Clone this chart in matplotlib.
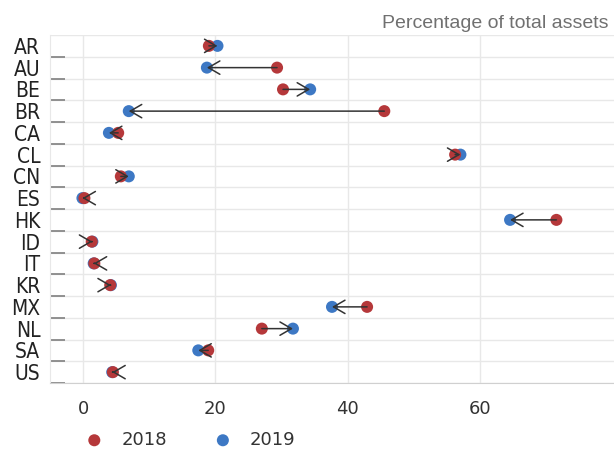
import matplotlib
matplotlib.use("Agg")
import matplotlib.pyplot as plt
import numpy as np

countries = ["AR", "AU", "BE", "BR", "CA", "CL", "CN", "ES", "HK", "ID", "IT", "KR", "MX", "NL", "SA", "US"]
v2018 = [19.0, 29.3, 30.2, 45.5, 5.3, 56.2, 5.7, 0.2, 71.5, 1.3, 1.7, 4.1, 42.9, 27.0, 18.9, 4.5]
v2019 = [20.3, 18.7, 34.3, 6.9, 3.9, 57.0, 6.9, -0.1, 64.5, 1.4, 1.6, 4.2, 37.6, 31.7, 17.4, 4.4]
xticks = [0, 20, 40, 60]
series_names = ["2018", "2019"]
subtitle = "Percentage of total assets"

RED = "#B5383A"
BLUE = "#3D78C4"

fig = plt.figure(figsize=(6.14, 4.49), dpi=100)
ax = fig.add_axes([50/614, 1-383/449, 1-50/614, (383-35)/449])

y = np.arange(len(countries))
ax.scatter(v2019, y, s=75, color=BLUE, zorder=3, label=series_names[1], edgecolors="none")
ax.scatter(v2018, y, s=75, color=RED, zorder=4, label=series_names[0], edgecolors="none")
for yi, a, b in zip(y, v2018, v2019):
    ax.annotate("", xy=(b, yi), xytext=(a, yi),
                arrowprops=dict(arrowstyle="->,head_length=0.55,head_width=0.32", color="#333333",
                                lw=1.1, shrinkA=0, shrinkB=0, mutation_scale=15),
                zorder=5)

ax.set_xlim(-5, 80.2)
ax.set_ylim(len(countries) - 0.5, -0.5)
ax.set_yticks(y)
ax.set_yticklabels(countries, family="DejaVu Sans", stretch="condensed", fontsize=15, color="#222222")
ax.set_yticks(np.arange(0.5, len(countries), 1), minor=True)
ax.tick_params(axis="y", which="major", length=0, pad=7)
ax.tick_params(axis="y", which="minor", length=11, width=1.3, direction="in", color="#888888")
ax.set_xticks(xticks)
ax.set_xticklabels([str(t) for t in xticks], fontsize=13, color="#333333")
ax.tick_params(axis="x", length=0, pad=12)
ax.grid(axis="x", which="major", color="#E8E8E8", lw=1)
ax.grid(axis="y", which="minor", color="#E8E8E8", lw=1)
ax.axhline(-0.5, color="#E8E8E8", lw=1, zorder=0)
ax.set_axisbelow(True)
for s in ["top", "right"]:
    ax.spines[s].set_visible(False)
ax.spines["left"].set_color("#E8E8E8")
ax.spines["bottom"].set_color("#D0D0D0")

fig.text(608/614, 1-24/449, subtitle, ha="right", va="center", fontsize=14,
         color="#707070", family="Liberation Sans")

h, l = ax.get_legend_handles_labels()
leg = fig.legend([h[1], h[0]], [l[1], l[0]], loc="center left", bbox_to_anchor=(60/614, 1-440/449),
                 ncol=2, frameon=False, fontsize=13, handletextpad=0.5, columnspacing=2.1,
                 markerscale=1.0)
for t in leg.get_texts():
    t.set_color("#333333")

fig.savefig("out.png", dpi=100)
